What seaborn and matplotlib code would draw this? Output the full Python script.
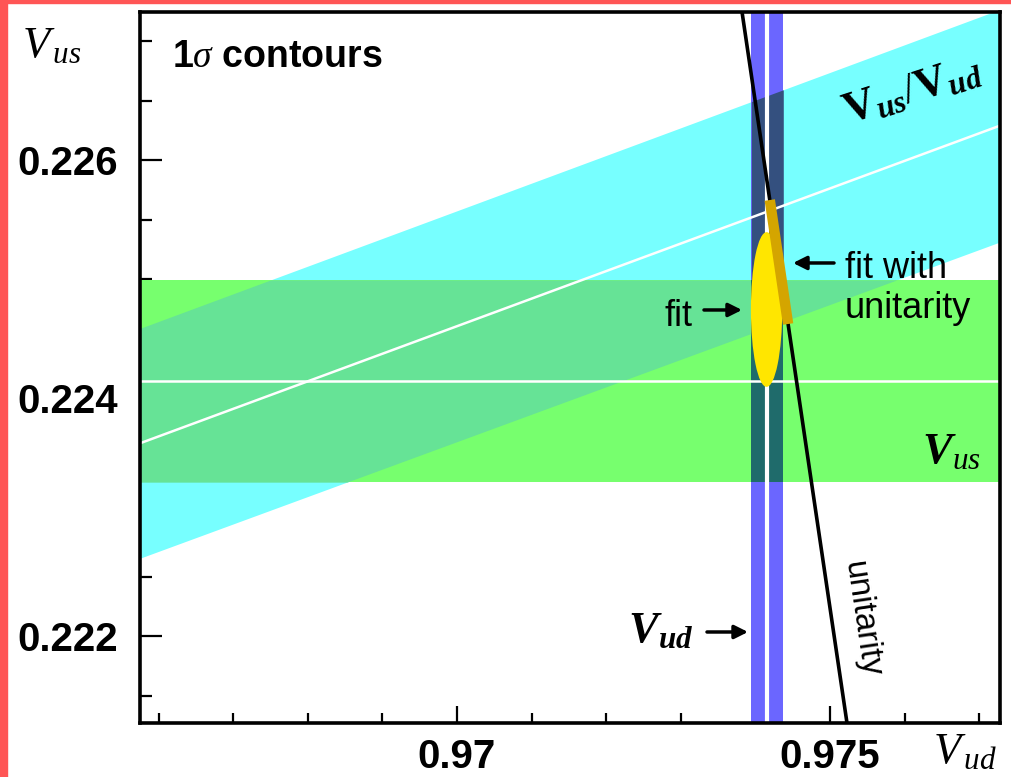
import numpy as np
import matplotlib
matplotlib.use('Agg')
import matplotlib.pyplot as plt
from matplotlib.patches import Ellipse, Rectangle
import seaborn as sns

# axis ranges: Vud on x, Vus on y
vud_lim = [0.965751, 0.977279]
vus_lim = [0.221269, 0.227244]
vud_major = [0.970, 0.975]
vud_major_labels = ['0.97', '0.975']
vud_minor = [0.966, 0.967, 0.968, 0.969, 0.971, 0.972, 0.973, 0.974, 0.976, 0.977]
vus_major = [0.222, 0.224, 0.226]
vus_major_labels = ['0.222', '0.224', '0.226']
vus_minor = [0.2215, 0.2225, 0.223, 0.2235, 0.2245, 0.225, 0.2255, 0.2265, 0.227]

# 1 sigma bands
vus_center, vus_err = 0.224143, 0.00085
ratio_center, ratio_err = 0.23155, 0.00100
vud_center, vud_err = 0.97416, 0.000214

# unitarity line (read at the frame edges)
unit_vud = [0.973821, 0.975228]
unit_vus = [0.227244, 0.221269]

# fit ellipse
fit_vud, fit_vus = 0.97415, 0.224744
fit_dvud, fit_dvus = 0.000210, 0.00065

# fit with unitarity: Vus span along the unitarity line
fitu_vus = [0.225664, 0.224622]

cyan = '#77FFFF'
green = '#77FF6E'
cyan_green = '#66E396'
blue = '#6B66FF'
blue_cyan = '#34507F'
blue_green = '#1F6B6B'

sns.set_theme(style='ticks')
plt.rcParams['font.family'] = ['Liberation Sans', 'DejaVu Sans']
plt.rcParams['text.color'] = 'black'
plt.rcParams['mathtext.fontset'] = 'custom'
plt.rcParams['mathtext.rm'] = 'Liberation Serif'
plt.rcParams['mathtext.it'] = 'Liberation Serif:italic'
plt.rcParams['mathtext.bf'] = 'Liberation Serif:bold'
plt.rcParams['mathtext.bfit'] = 'Liberation Serif:italic:bold'

fig = plt.figure(figsize=(10.11, 7.77), dpi=100)
fig.patch.set_facecolor('white')
ax = fig.add_axes([140 / 1011, 54 / 777, 860 / 1011, 711 / 777])
fig.patches.append(Rectangle((0, 0), 7 / 1011, 1, transform=fig.transFigure, color='#FF5555', zorder=10))
fig.patches.append(Rectangle((0, 1 - 3 / 777), 1, 3 / 777, transform=fig.transFigure, color='#FF5555', zorder=10))

x = np.linspace(vud_lim[0], vud_lim[1], 400)
r_lo, r_hi = ratio_center - ratio_err, ratio_center + ratio_err
v_lo, v_hi = vus_center - vus_err, vus_center + vus_err

# Vus/Vud band, Vus band and their overlap
ax.fill_between(x, r_lo * x, r_hi * x, color=cyan, lw=0, zorder=1)
ax.axhspan(v_lo, v_hi, color=green, lw=0, zorder=1.1)
lo = np.maximum(v_lo, r_lo * x)
hi = np.minimum(v_hi, r_hi * x)
ax.fill_between(x, lo, hi, where=hi > lo, interpolate=True, color=cyan_green, lw=0, zorder=1.2)

# Vud band
xb = np.linspace(vud_center - vud_err, vud_center + vud_err, 20)
ax.axvspan(xb[0], xb[-1], color=blue, lw=0, zorder=2)
ax.fill_between(xb, r_lo * xb, r_hi * xb, color=blue_cyan, lw=0, zorder=2.1)
ax.fill_between(xb, v_lo, v_hi, color=blue_green, lw=0, zorder=2.2)

# central values
ax.axhline(vus_center, color='white', lw=1.8, zorder=3)
ax.plot(x, ratio_center * x, color='white', lw=1.8, zorder=3)
ax.axvline(vud_center, color='white', lw=3.0, zorder=3)

# unitarity
sns.lineplot(x=unit_vud, y=unit_vus, color='black', lw=2.6, ax=ax, zorder=4)

# fits
ax.add_patch(Ellipse((fit_vud, fit_vus), 2 * fit_dvud, 2 * fit_dvus, color='#FFE600', lw=0, zorder=5))
gx = np.interp(fitu_vus, unit_vus[::-1], unit_vud[::-1])
ax.plot(gx, fitu_vus, color='#D4A500', lw=7.5, solid_capstyle='butt', zorder=6)

ax.set_xlim(vud_lim)
ax.set_ylim(vus_lim)
ax.set_xticks(vud_major)
ax.set_xticklabels(vud_major_labels)
ax.set_xticks(vud_minor, minor=True)
ax.set_yticks(vus_major)
ax.set_yticklabels(vus_major_labels)
ax.set_yticks(vus_minor, minor=True)
ax.set_xlabel('')
ax.set_ylabel('')
for s in ax.spines.values():
    s.set_linewidth(2.6)
    s.set_color('black')
    s.set_zorder(8)
ax.tick_params(axis='both', which='both', direction='in', width=1.6, color='black')
ax.tick_params(axis='x', which='major', length=12, pad=11)
ax.tick_params(axis='x', which='minor', length=7)
ax.tick_params(axis='y', which='major', length=16, pad=16)
ax.tick_params(axis='y', which='minor', length=8.5)
for lab in ax.get_xticklabels() + ax.get_yticklabels():
    lab.set_fontsize(29)
    lab.set_fontweight('bold')
    lab.set_color('black')

# labels and annotations (positions in axes fraction)
tr = ax.transAxes
ax.text(0.0372, 0.9226, '1$\\sigma$ contours', transform=tr, fontsize=27, fontweight='bold',
        ha='left', va='baseline', zorder=9)
ax.text(0.8977, 0.8903, r'$\mathbf{V}_{\mathbfit{us}}/\mathbf{V}_{\mathbfit{ud}}$', transform=tr,
        fontsize=32, rotation=18, rotation_mode='anchor', ha='center', va='center', zorder=9)
ax.text(0.9093, 0.3657, r'$\mathbfit{V}_{\mathit{us}}$', transform=tr, fontsize=32,
        ha='left', va='baseline', zorder=9)
ax.text(0.5674, 0.1139, r'$\mathbfit{V}_{\mathbfit{ud}}$', transform=tr, fontsize=32,
        ha='left', va='baseline', zorder=9)
ax.text(0.6419, 0.5584, 'fit', transform=tr, fontsize=26, ha='right', va='baseline', zorder=9)
ax.text(0.8198, 0.6259, 'fit with', transform=tr, fontsize=26, ha='left', va='baseline', zorder=9)
ax.text(0.8198, 0.5696, 'unitarity', transform=tr, fontsize=26, ha='left', va='baseline', zorder=9)
ax.text(0.8395, 0.1449, 'unitarity', transform=tr, fontsize=24, rotation=-81.6,
        rotation_mode='anchor', ha='center', va='center', zorder=9)

arrow = dict(arrowstyle='-|>', color='black', lw=2.5, mutation_scale=20, shrinkA=0, shrinkB=0)
ax.annotate('', xy=(0.7000, 0.5809), xytext=(0.6558, 0.5809), xycoords=tr, textcoords=tr,
            arrowprops=arrow, zorder=9)
ax.annotate('', xy=(0.7593, 0.6470), xytext=(0.8070, 0.6470), xycoords=tr, textcoords=tr,
            arrowprops=arrow, zorder=9)
ax.annotate('', xy=(0.7070, 0.1280), xytext=(0.6593, 0.1280), xycoords=tr, textcoords=tr,
            arrowprops=arrow, zorder=9)

# axis titles
fig.text(22 / 1011, 1 - 57 / 777, r'$V_{\,us}$', fontsize=32, ha='left', va='baseline')
fig.text(933 / 1011, 1 - 763 / 777, r'$V_{\,ud}$', fontsize=32, ha='left', va='baseline')

fig.savefig('out.png', dpi=100, facecolor='white')
